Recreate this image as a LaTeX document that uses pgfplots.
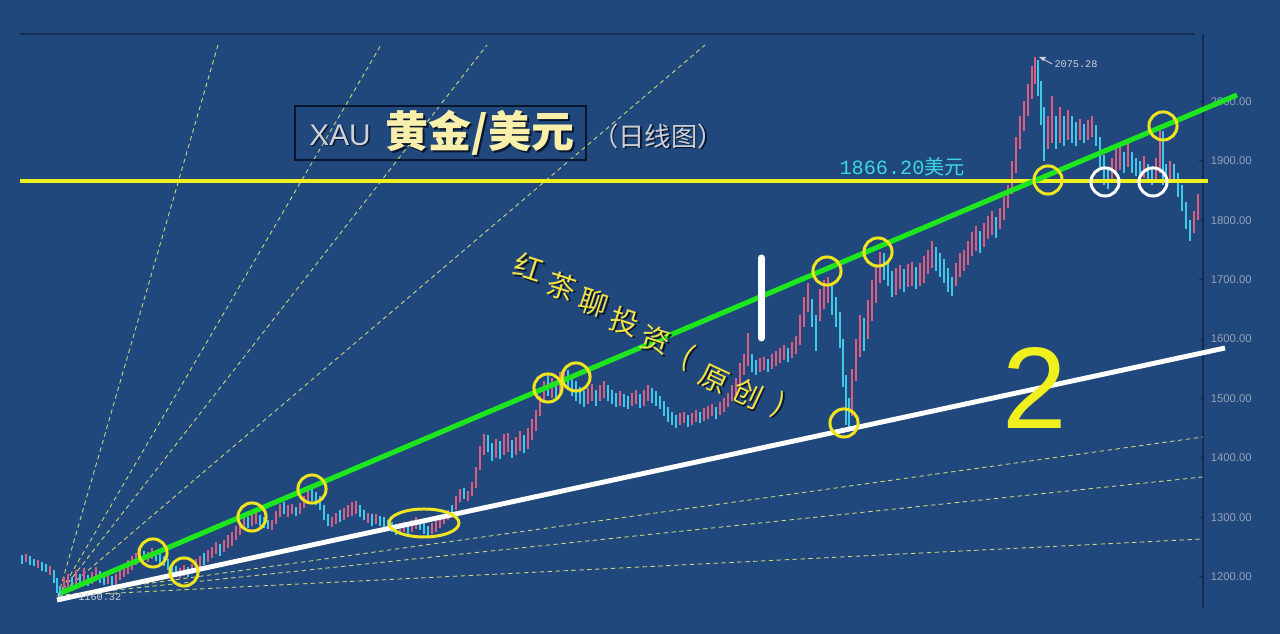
\documentclass[border=0pt]{standalone}
\usepackage{pgfplots}
\pgfplotsset{compat=1.18}
\usepackage{pgfplotstable}
\usepackage{fontspec}
\setmainfont{Liberation Sans}
\newfontfamily\cjk{Noto Sans CJK SC}
\newfontfamily\mono{Liberation Mono}
\definecolor{bg}{RGB}{32,72,124}
\definecolor{frame}{RGB}{20,44,82}
\definecolor{upc}{RGB}{222,92,128}
\definecolor{dnc}{RGB}{64,200,232}
\definecolor{fan}{RGB}{205,215,120}
\definecolor{gline}{RGB}{30,230,30}
\definecolor{yline}{RGB}{240,240,30}
\definecolor{circ}{RGB}{240,228,30}
\definecolor{tickc}{RGB}{150,162,185}
\definecolor{cyantext}{RGB}{60,215,225}
\definecolor{cream}{RGB}{248,240,170}
\definecolor{shadow}{RGB}{10,22,45}
\definecolor{hand}{RGB}{242,226,70}
\definecolor{lgray}{RGB}{205,208,215}

\newcommand{\hch}[4]{%
  \node[text=shadow, rotate=#4, inner sep=0pt] at (#2+1.5,#3+1.5) {\cjk\fontsize{16.5}{16.5}\selectfont #1};
  \node[text=hand, rotate=#4, inner sep=0pt] at (#2,#3) {\cjk\fontsize{16.5}{16.5}\selectfont #1};}

\pgfplotstableread{
x lo hi u
22 1222 1236 0
26 1225 1238 1
30 1220 1234 0
34 1218 1230 0
38 1214 1228 1
42 1210 1225 0
46 1208 1222 0
50 1203 1218 1
54 1190 1212 0
57 1172 1198 0
60 1160 1185 0
64 1175 1200 1
68 1183 1205 1
72 1180 1200 0
76 1185 1212 1
80 1188 1205 0
84 1190 1215 1
88 1185 1203 0
92 1187 1208 1
96 1192 1216 1
100 1190 1210 0
104 1186 1204 0
108 1188 1208 1
112 1183 1201 0
116 1185 1205 1
120 1195 1214 1
124 1200 1218 1
128 1205 1228 1
132 1212 1235 1
136 1220 1240 1
140 1225 1245 1
144 1228 1244 0
148 1224 1242 1
152 1230 1248 1
156 1226 1243 0
160 1222 1240 0
164 1218 1235 0
168 1212 1230 0
172 1205 1222 0
176 1200 1218 0
180 1198 1214 1
184 1202 1220 1
188 1200 1216 0
192 1204 1222 1
196 1210 1230 1
200 1215 1235 1
204 1220 1240 0
208 1225 1245 1
212 1232 1250 1
216 1238 1258 1
220 1235 1255 0
224 1242 1262 1
228 1248 1270 1
232 1252 1275 1
236 1262 1285 1
240 1270 1292 1
244 1278 1298 1
248 1282 1300 0
252 1285 1305 1
256 1288 1308 1
260 1286 1304 0
264 1282 1300 0
268 1280 1296 0
272 1278 1295 1
276 1288 1310 1
280 1300 1322 1
284 1305 1325 0
288 1300 1320 1
292 1305 1322 1
296 1302 1318 0
300 1306 1324 1
304 1315 1335 1
308 1325 1345 1
312 1328 1348 0
316 1320 1342 0
320 1312 1335 0
324 1295 1320 0
328 1285 1305 0
332 1283 1300 1
336 1288 1308 1
340 1292 1312 0
344 1295 1315 1
348 1300 1320 1
352 1302 1325 1
356 1305 1328 1
360 1300 1320 0
364 1295 1312 0
368 1290 1308 1
372 1286 1305 0
376 1288 1306 1
380 1285 1302 0
384 1282 1300 0
388 1278 1296 0
392 1275 1292 0
396 1270 1288 0
400 1272 1290 1
404 1275 1292 1
408 1272 1288 0
412 1276 1295 1
416 1280 1300 1
420 1278 1296 0
424 1272 1290 0
428 1268 1285 0
432 1272 1290 1
436 1276 1294 1
440 1282 1300 1
444 1288 1306 1
448 1295 1312 1
452 1300 1320 0
456 1312 1335 1
460 1325 1348 1
464 1330 1350 0
468 1328 1345 1
472 1335 1360 1
476 1350 1385 1
480 1380 1420 1
484 1405 1440 1
488 1410 1438 0
492 1395 1425 0
496 1400 1432 1
500 1398 1428 0
504 1405 1440 1
508 1410 1442 1
512 1400 1430 0
516 1405 1435 1
520 1412 1445 1
524 1408 1438 0
528 1415 1450 1
532 1430 1465 1
536 1445 1480 1
540 1470 1505 1
544 1495 1530 1
548 1505 1540 0
552 1500 1535 1
556 1495 1525 0
560 1510 1545 1
564 1520 1552 1
568 1515 1548 0
572 1505 1538 0
576 1495 1530 0
580 1490 1520 0
584 1485 1512 0
588 1490 1518 1
592 1495 1525 1
596 1488 1515 0
600 1495 1522 1
604 1500 1530 1
608 1495 1522 0
612 1490 1515 0
616 1485 1510 0
620 1488 1512 1
624 1485 1508 0
628 1482 1505 0
632 1487 1510 1
636 1490 1515 1
640 1484 1508 0
644 1488 1515 1
648 1495 1522 1
652 1492 1518 0
656 1488 1512 0
660 1482 1505 0
664 1470 1495 0
668 1460 1485 0
672 1455 1478 0
676 1450 1472 0
680 1455 1475 1
684 1458 1478 1
688 1452 1472 0
692 1456 1476 1
696 1460 1480 1
700 1458 1478 0
704 1462 1484 1
708 1466 1488 1
712 1470 1490 1
716 1466 1486 0
720 1472 1494 1
724 1478 1500 1
728 1485 1510 1
732 1495 1522 1
736 1505 1535 1
740 1520 1560 1
744 1540 1575 1
748 1555 1610 1
752 1545 1575 0
756 1540 1565 0
760 1545 1568 1
764 1548 1570 1
768 1545 1566 0
772 1550 1575 1
776 1555 1580 1
780 1560 1585 1
784 1565 1590 1
788 1562 1585 0
792 1568 1595 1
796 1575 1605 1
800 1590 1640 1
804 1620 1670 1
808 1645 1694 1
812 1620 1668 0
816 1580 1640 0
820 1630 1685 1
824 1650 1700 1
828 1660 1704 1
832 1640 1690 0
836 1620 1670 0
840 1585 1645 0
843 1520 1600 0
846 1455 1540 0
849 1452 1500 0
852 1470 1550 1
856 1530 1600 1
860 1570 1640 1
864 1580 1635 0
868 1600 1665 1
872 1630 1700 1
876 1660 1725 1
880 1695 1747 1
884 1700 1745 0
888 1690 1730 0
892 1670 1715 0
896 1675 1720 1
900 1685 1725 1
904 1680 1718 0
908 1688 1726 1
912 1690 1730 1
916 1685 1722 0
920 1690 1728 1
924 1695 1740 1
928 1710 1750 1
932 1720 1765 1
936 1715 1755 0
940 1705 1745 0
944 1695 1735 0
948 1680 1720 0
952 1672 1705 0
956 1690 1728 1
960 1705 1745 1
964 1715 1750 1
968 1725 1765 1
972 1740 1780 1
976 1748 1790 1
980 1745 1782 0
984 1755 1795 1
988 1768 1808 1
992 1775 1815 1
996 1770 1805 0
1000 1785 1820 1
1004 1800 1840 1
1008 1820 1860 1
1012 1845 1900 1
1016 1880 1940 1
1020 1920 1975 1
1024 1950 2000 1
1028 1975 2030 1
1032 2005 2060 1
1035 2030 2075 1
1038 2010 2070 0
1041 1960 2035 0
1044 1900 1990 0
1048 1920 1975 1
1052 1930 2010 1
1056 1920 1975 0
1060 1930 1990 1
1064 1925 1975 0
1068 1935 1985 1
1072 1930 1975 0
1076 1925 1965 0
1080 1935 1970 1
1084 1930 1962 0
1088 1935 1968 1
1092 1940 1975 1
1096 1925 1960 0
1100 1890 1940 0
1104 1860 1910 0
1108 1852 1890 0
1112 1865 1905 1
1116 1880 1920 1
1120 1885 1925 1
1124 1880 1915 0
1128 1890 1930 1
1132 1880 1915 0
1136 1875 1905 0
1140 1868 1900 0
1144 1872 1908 1
1148 1865 1895 0
1152 1860 1890 0
1156 1870 1905 1
1160 1880 1960 1
1163 1860 1950 0
1166 1862 1895 0
1170 1870 1900 1
1174 1865 1895 0
1178 1840 1880 0
1182 1815 1860 0
1186 1785 1830 0
1190 1765 1800 0
1194 1778 1815 1
1198 1800 1845 1
}\candles

\begin{document}
\begin{tikzpicture}
\fill[bg] (0,0) rectangle (25.6cm,12.68cm);
\begin{axis}[
  at={(0.4cm,0.52cm)}, anchor=south west,
  scale only axis, width=23.66cm, height=11.48cm,
  xmin=20, xmax=1203, ymin=1147.3, ymax=2113.6,
  clip=false,
  axis x line=none, axis y line=right,
  axis line style={-, draw=frame, line width=0.9pt},
  ytick={1200,1300,...,2000},
  scaled y ticks=false,
  tick align=inside, major tick length=2.3pt,
  tick style={draw=frame, line width=0.6pt},
  yticklabel style={font=\fontsize{6.4}{7}\selectfont, text=tickc, xshift=1pt,
    /pgf/number format/fixed, /pgf/number format/fixed zerofill,
    /pgf/number format/precision=2, /pgf/number format/1000 sep={},
    /pgf/number format/assume math mode=true},
]
% top frame line
\draw[frame, line width=0.9pt] (axis cs:20,2113.6) -- (axis cs:1195,2113.6);
% fan lines
\addplot[fan, line width=0.5pt, dash pattern=on 2.5pt off 2pt] coordinates {(58,1167.5) (218,2095.1)};
\addplot[fan, line width=0.5pt, dash pattern=on 2.5pt off 2pt] coordinates {(58,1167.5) (381,2095.1)};
\addplot[fan, line width=0.5pt, dash pattern=on 2.5pt off 2pt] coordinates {(58,1167.5) (487,2095.1)};
\addplot[fan, line width=0.5pt, dash pattern=on 2.5pt off 2pt] coordinates {(58,1167.5) (705,2095.1)};
\addplot[fan, line width=0.5pt, dash pattern=on 2.5pt off 2pt] coordinates {(58,1167.5) (1203,1435.2)};
\addplot[fan, line width=0.5pt, dash pattern=on 2.5pt off 2pt] coordinates {(58,1167.5) (1203,1367.9)};
\addplot[fan, line width=0.5pt, dash pattern=on 2.5pt off 2pt] coordinates {(58,1167.5) (1203,1263.5)};
% candles
\addplot[draw=none, mark=none, restrict expr to domain={\thisrow{u}}{0.5:1.5},
  error bars/.cd, y dir=plus, y explicit, error mark=none,
  error bar style={line width=1.5pt, draw=upc}]
  table[x=x, y=lo, y error plus expr=\thisrow{hi}-\thisrow{lo}] {\candles};
\addplot[draw=none, mark=none, restrict expr to domain={\thisrow{u}}{-0.5:0.5},
  error bars/.cd, y dir=plus, y explicit, error mark=none,
  error bar style={line width=1.5pt, draw=dnc}]
  table[x=x, y=lo, y error plus expr=\thisrow{hi}-\thisrow{lo}] {\candles};
% trend lines
\addplot[yline, line width=2pt] coordinates {(20,1866.2) (1208,1866.2)};
\addplot[white, line width=2.8pt] coordinates {(57,1160.8) (1225,1585.0)};
\addplot[gline, line width=2.9pt] coordinates {(61,1172.6) (1237,2010.9)};
% white mark
\addplot[white, line width=4pt, line cap=round] coordinates {(761.5,1736.5) (761.5,1601.9)};
% circles
\addplot[only marks, mark=o, mark size=8pt, mark options={draw=circ, line width=1.7pt}] coordinates {
(153,1239.9) (184,1207.9) (252,1300.5) (312,1347.6) (548,1517.7) (576,1536.2)
(827,1714.6) (878,1746.6) (844,1458.8) (1048,1867.8) (1163,1958.8)};
\addplot[only marks, mark=o, mark size=8pt, mark options={draw=white, line width=1.7pt}] coordinates {
(1105,1864.5) (1153,1864.5)};
\draw[circ, line width=1.7pt] (axis cs:424,1290.4) ellipse [x radius=0.7cm, y radius=0.28cm];
\end{axis}
\begin{scope}[yshift=12.68cm, x=0.02cm, y=-0.02cm]
% title box
\draw[shadow, line width=0.8pt] (295,106) rectangle (586,160);
\node[text=shadow] at (341.5,136.5) {\fontsize{17}{20}\selectfont XAU};
\node[text=lgray] at (340,135) {\fontsize{17}{20}\selectfont XAU};
\node[text=shadow] at (482,135) {\cjk\bfseries\fontsize{24.5}{28}\selectfont 黄金/美元};
\node[text=cream] at (480,133) {\cjk\bfseries\fontsize{24.5}{28}\selectfont 黄金/美元};
\node[text=shadow] at (659.5,137.5) {\cjk\fontsize{15}{18}\selectfont （日线图）};
\node[text=lgray] at (658,136) {\cjk\fontsize{15}{18}\selectfont （日线图）};
% price labels
\node[text=cyantext] at (902,167) {\mono\fontsize{11.5}{14}\selectfont 1866.20\cjk 美元};
\draw[lgray, line width=0.5pt] (1041,58) -- (1052,64);
\fill[lgray] (1039,57) -- (1046,57) -- (1043,61) -- cycle;
\node[anchor=west, text=lgray, inner sep=0pt] at (1054,64) {\mono\fontsize{5.8}{7}\selectfont 2075.28};
\node[anchor=west, text=lgray, inner sep=0pt] at (78,597) {\mono\fontsize{5.8}{7}\selectfont 1160.32};
% handwritten text
\hch{红}{529}{267}{-18}
\hch{茶}{562}{286}{-18}
\hch{聊}{594}{303}{-18}
\hch{投}{625}{321}{-18}
\hch{资}{656}{340}{-18}
\hch{(}{688}{357}{-25}
\hch{原}{714}{379}{-25}
\hch{创}{748}{394}{-25}
\hch{)}{779}{405}{-25}
\node[text=yline] at (1035,388) {\fontsize{66}{66}\selectfont 2};
\end{scope}
\end{tikzpicture}
\end{document}
